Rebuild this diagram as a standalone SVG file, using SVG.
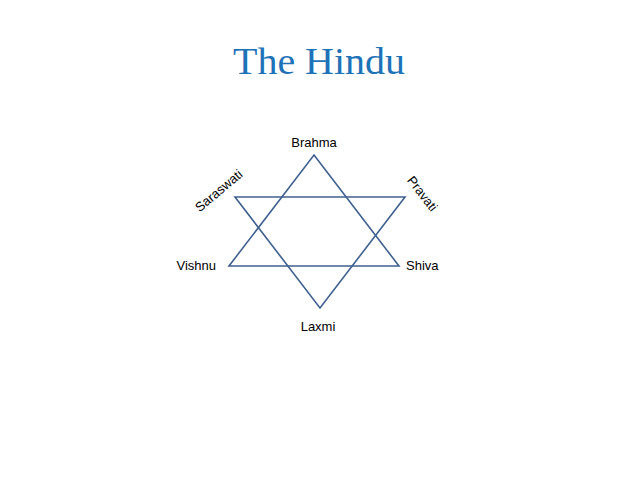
<svg xmlns="http://www.w3.org/2000/svg" width="638" height="479" viewBox="0 0 638 479">
<style>
.lbl{font-family:"Liberation Sans","Open Sans",sans-serif;font-size:13px;fill:#000}
.tri{fill:none;stroke:#3f6090;stroke-width:1.6;stroke-linejoin:miter}
.title{font-family:"Liberation Serif",serif;font-size:38px;fill:#1e72b8}
</style>
<rect width="638" height="479" fill="#fff"/>
<text class="title" x="319" y="74" text-anchor="middle" textLength="172" lengthAdjust="spacingAndGlyphs">The Hindu</text>
<g id="connectors">
<polygon class="tri" points="314,155 399,266 229,266"/>
<polygon class="tri" points="235,197 405,197 320,308"/>
</g>
<g id="brahma"><text class="lbl" x="314" y="147" text-anchor="middle">Brahma</text></g>
<g id="vishnu"><text class="lbl" x="216" y="270" text-anchor="end">Vishnu</text></g>
<g id="shiva"><text class="lbl" x="406" y="270">Shiva</text></g>
<g id="laxmi"><text class="lbl" x="318" y="331" text-anchor="middle">Laxmi</text></g>
<g id="saraswati"><text class="lbl" x="0" y="4" text-anchor="middle" transform="translate(219,191) rotate(-40)">Saraswati</text></g>
<g id="pravati"><text class="lbl" x="0" y="4" text-anchor="middle" transform="translate(422,194) rotate(52)">Pravati</text></g>
</svg>
